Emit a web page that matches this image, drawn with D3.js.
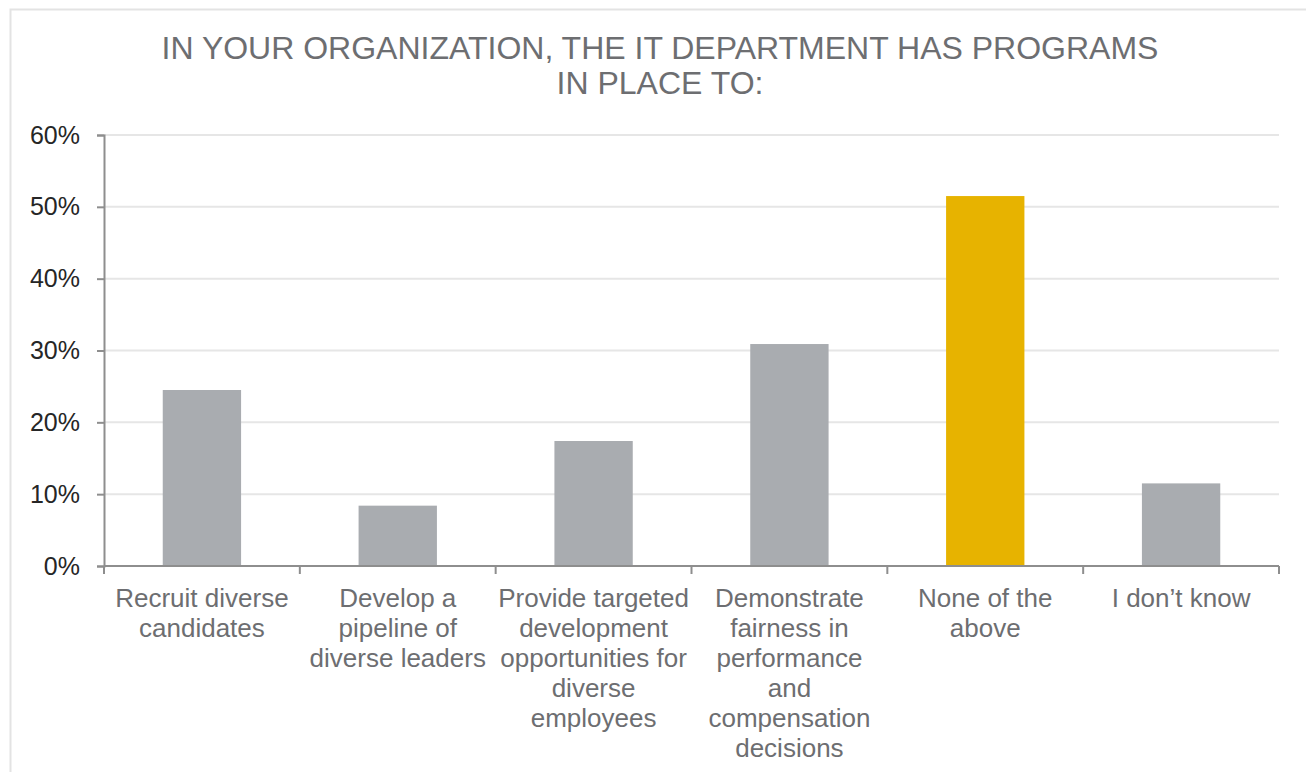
<!DOCTYPE html>
<html>
<head>
<meta charset="utf-8">
<script src="https://cdn.jsdelivr.net/npm/d3@7"></script>
<style>
  html, body { margin: 0; padding: 0; background: #ffffff; }
  svg { display: block; font-family: "Liberation Sans", Arial, Helvetica, sans-serif; }
</style>
</head>
<body>
<svg id="chart" width="1306" height="772"></svg>
<script>
// ---- data ----
const titleLines = ["IN YOUR ORGANIZATION, THE IT DEPARTMENT HAS PROGRAMS", "IN PLACE TO:"];
const categories = [
  "Recruit diverse candidates",
  "Develop a pipeline of diverse leaders",
  "Provide targeted development opportunities for diverse employees",
  "Demonstrate fairness in performance and compensation decisions",
  "None of the above",
  "I don\u2019t know"
];
const categoryLabelLines = [
  ["Recruit diverse", "candidates"],
  ["Develop a", "pipeline of", "diverse leaders"],
  ["Provide targeted", "development", "opportunities for", "diverse", "employees"],
  ["Demonstrate", "fairness in", "performance", "and", "compensation", "decisions"],
  ["None of the", "above"],
  ["I don\u2019t know"]
];
const values = [0.245, 0.084, 0.174, 0.309, 0.515, 0.115];
const highlighted = ["None of the above"];
const yTicks = [0, 0.1, 0.2, 0.3, 0.4, 0.5, 0.6];

// ---- layout ----
const svg = d3.select("#chart");
const plotLeft = 104, plotRight = 1279, plotTop = 135, plotBottom = 566;

// frame
svg.append("rect")
  .attr("x", 10.5).attr("y", 9.5).attr("width", 1400).attr("height", 900)
  .attr("fill", "none").attr("stroke", "#e3e3e3").attr("stroke-width", 2);

const x = d3.scaleBand().domain(categories).range([plotLeft, plotRight]).paddingInner(0.6).paddingOuter(0.3);
const y = d3.scaleLinear().domain([0, 0.6]).range([plotBottom, plotTop]);

// title
svg.append("g").selectAll("text").data(titleLines).join("text")
  .attr("x", 660).attr("y", (d, i) => 59 + i * 35)
  .attr("text-anchor", "middle")
  .attr("font-size", 32).attr("fill", "#6d6e71")
  .text(d => d);

// gridlines
svg.append("g").selectAll("line").data(yTicks.filter(t => t > 0)).join("line")
  .attr("x1", plotLeft).attr("x2", plotRight)
  .attr("y1", d => y(d)).attr("y2", d => y(d))
  .attr("stroke", "#e6e6e6").attr("stroke-width", 2);

// bars
svg.append("g").selectAll("rect").data(categories).join("rect")
  .attr("x", d => x(d)).attr("width", x.bandwidth())
  .attr("y", (d, i) => y(values[i]))
  .attr("height", (d, i) => y(0) - y(values[i]))
  .attr("fill", d => highlighted.includes(d) ? "#e7b300" : "#a9acb0");

// y axis
const yAxis = svg.append("g").attr("transform", `translate(${plotLeft},0)`)
  .call(d3.axisLeft(y).tickValues(yTicks).tickFormat(d3.format(".0%")).tickSize(7).tickPadding(17));
yAxis.select(".domain").attr("stroke", "#8e8e8e").attr("stroke-width", 2);
yAxis.selectAll(".tick line").attr("stroke", "#8e8e8e").attr("stroke-width", 2);
yAxis.selectAll(".tick text").attr("font-size", 25).attr("fill", "#262626")
  .attr("font-family", "'Liberation Sans', Arial, sans-serif");

// x axis line
svg.append("line").attr("x1", plotLeft).attr("x2", plotRight).attr("y1", y(0)).attr("y2", y(0))
  .attr("stroke", "#8e8e8e").attr("stroke-width", 2);

// x category boundary ticks
const boundaries = d3.range(categories.length + 1).map(i => plotLeft + i * x.step());
svg.append("g").selectAll("line").data(boundaries).join("line")
  .attr("x1", d => d).attr("x2", d => d)
  .attr("y1", y(0)).attr("y2", y(0) + 8)
  .attr("stroke", "#8e8e8e").attr("stroke-width", 2);

// category labels
const labelG = svg.append("g").selectAll("text").data(categories).join("text")
  .attr("text-anchor", "middle")
  .attr("font-size", 26).attr("fill", "#6d6e71");
labelG.each(function(d, i) {
  const t = d3.select(this);
  const cx = x(d) + x.bandwidth() / 2;
  categoryLabelLines[i].forEach((line, j) => {
    t.append("tspan").attr("x", cx).attr("y", 607 + j * 30).text(line);
  });
});
</script>
</body>
</html>
